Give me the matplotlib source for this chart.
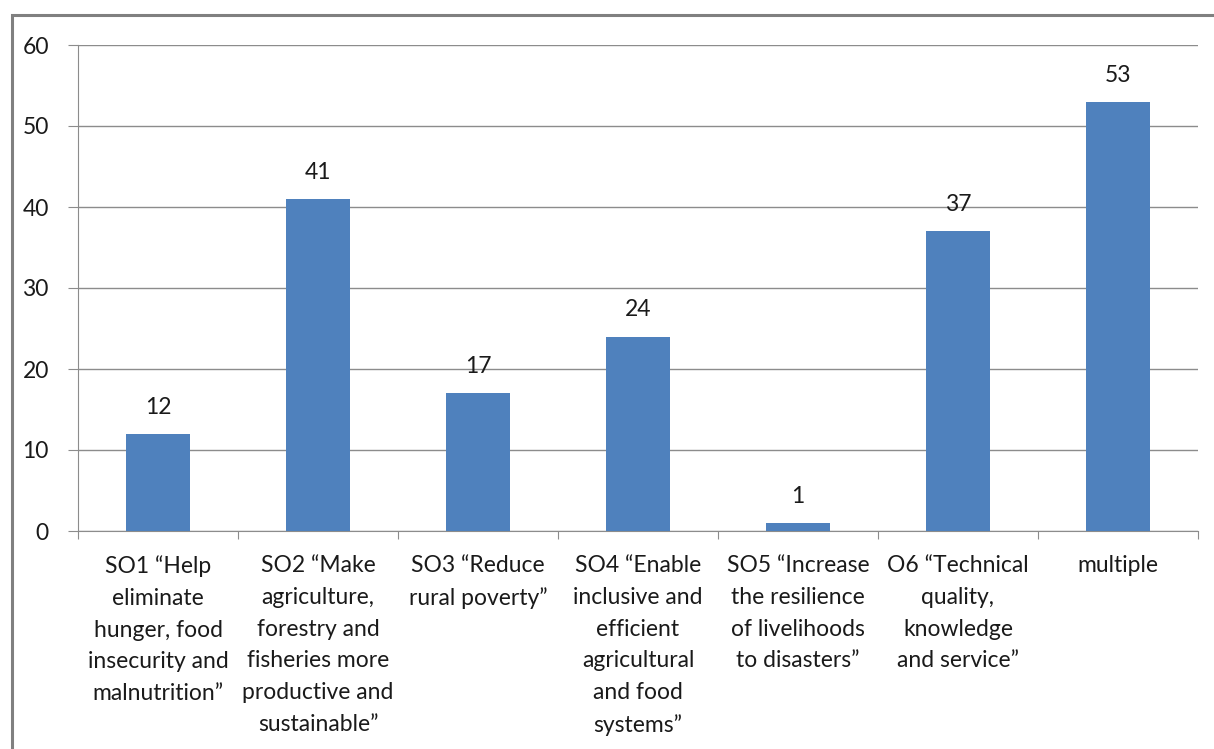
import matplotlib.pyplot as plt
import matplotlib.patches as mpatches
import numpy as np

# Number of projects per strategic objective
categories = ['SO1 \u201cHelp\neliminate\nhunger, food\ninsecurity and\nmalnutrition\u201d',
              'SO2 \u201cMake\nagriculture,\nforestry and\nfisheries more\nproductive and\nsustainable\u201d',
              'SO3 \u201cReduce\nrural poverty\u201d',
              'SO4 \u201cEnable\ninclusive and\nefficient\nagricultural\nand food\nsystems\u201d',
              'SO5 \u201cIncrease\nthe resilience\nof livelihoods\nto disasters\u201d',
              'O6 \u201cTechnical\nquality,\nknowledge\nand service\u201d',
              'multiple']
counts = [12, 41, 17, 24, 1, 37, 53]
yticks = [0, 10, 20, 30, 40, 50, 60]

plt.rcParams['font.family'] = ['Lato', 'DejaVu Sans']
fs = 16.5
grey = '#8c8c8c'
txt = '#1a1a1a'

fig = plt.figure(figsize=(12.14, 7.49), dpi=100)
W, H = 1214, 749
ax = fig.add_axes([78 / W, 1 - 531 / H, (1198 - 78) / W, (531 - 45) / H])

x = np.arange(len(counts))
ax.bar(x, counts, width=0.4, color='#4F81BD', zorder=3)
for xi, v in zip(x, counts):
    ax.text(xi, v + 2.0, str(v), ha='center', va='bottom', fontsize=fs, color=txt)

ax.set_xlim(-0.5, len(counts) - 0.5)
ax.set_ylim(0, 60)
ax.set_yticks(yticks)
ax.yaxis.grid(True, color=grey, linewidth=1, zorder=0)
ax.tick_params(axis='y', length=7, color=grey, labelsize=fs, pad=14, labelcolor=txt)

# category labels centred between boundary ticks
ax.set_xticks(np.arange(-0.5, len(counts)), minor=False)
ax.set_xticklabels([])
ax.tick_params(axis='x', length=6, color=grey, direction='out')
for xi, lab in zip(x, categories):
    ax.text(xi, -3.0, lab, ha='center', va='top', fontsize=fs, color=txt,
            linespacing=1.63)

for s in ['top', 'right']:
    ax.spines[s].set_visible(False)
ax.spines['left'].set_color(grey)
ax.spines['bottom'].set_color(grey)

# outer chart border
fig.patches.append(mpatches.Rectangle((12 / W, -0.1), 1.2, 1 - 15 / H + 0.1,
                                      transform=fig.transFigure, fill=False,
                                      edgecolor='#808080', linewidth=2.2))

fig.savefig('out.png', dpi=100)
